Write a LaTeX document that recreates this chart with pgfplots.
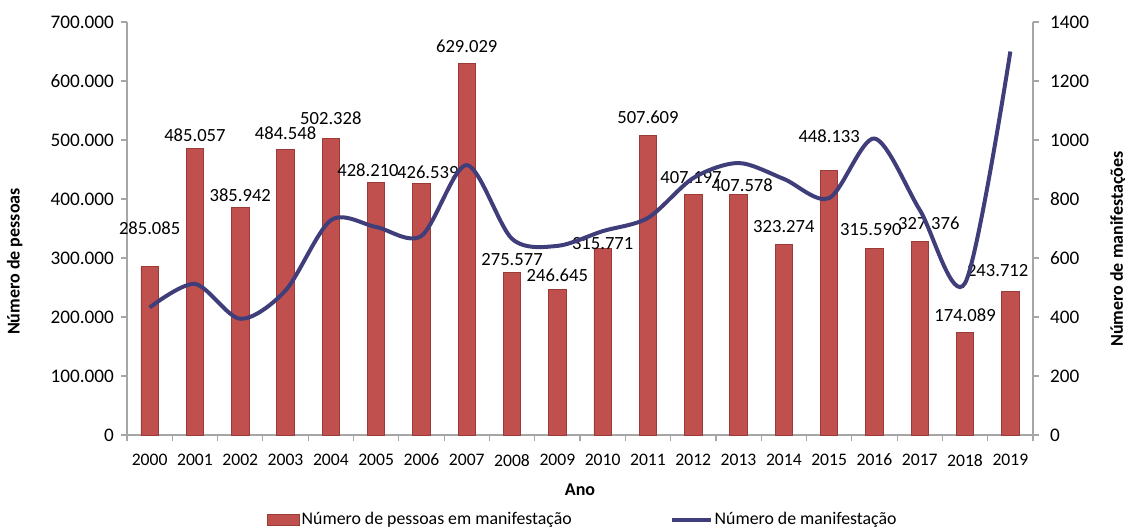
\documentclass[border=0pt]{standalone}
\usepackage{pgfplots}
\pgfplotsset{compat=1.18}
\usepackage{pgfplotstable}
\usepackage{fontspec}
\setmainfont{Carlito}
\definecolor{barred}{HTML}{C0504D}
\definecolor{baredge}{HTML}{9A3B38}
\definecolor{linecol}{RGB}{64,62,122}
\definecolor{axgray}{HTML}{A6A6A6}

\pgfplotstableread{
x pessoas labelx labely label
0 285085 0 351000 285.085
1 485057 1 508000 485.057
2 385942 2 407000 385.942
3 484548 3 512000 484.548
4 502328 4 537000 502.328
5 428210 4.82 449000 428.210
6 426539 6.14 446000 426.539
7 629029 7 659000 629.029
8 275577 8 298000 275.577
9 246645 9 271000 246.645
10 315771 10 325000 315.771
11 507609 11 539000 507.609
12 407197 11.95 437000 407.197
13 407578 13.08 424000 407.578
14 323274 14 354000 323.274
15 448133 15 507000 448.133
16 315590 15.92 349000 315.590
17 327376 17.2 359000 327.376
18 174089 18 203000 174.089
19 243712 18.72 278000 243.712
}\barsdata

\pgfplotstableread{
x manif
0 432
1 512
2 394
3 490
4 728
5 705
6 675
7 915
8 665
9 641
10 691
11 736
12 871
13 922
14 868
15 803
16 1005
17 763
18 515
19 1300
}\linedata

\begin{document}
\begin{tikzpicture}
\pgfplotsset{
  common/.style={
    width=453pt, height=206.5pt, scale only axis,
    at={(0,0)}, anchor=south west,
    xmin=-0.5, xmax=19.5,
    tick label style={font=\fontsize{8.8}{10}\selectfont, text=black},
    yticklabel style={font=\fontsize{9.6}{11}\selectfont},
    /pgf/number format/assume math mode=true,
    axis line style={axgray, line width=0.6pt},
    tick style={axgray, line width=0.6pt},
    tick align=outside,
    major tick length=3pt, minor tick length=3pt,
    label style={font=\bfseries\fontsize{9}{11}\selectfont},
  }
}
\begin{axis}[common,
  ymin=0, ymax=700000,
  ytick={0,100000,200000,300000,400000,500000,600000,700000},
  scaled y ticks=false,
  yticklabel style={/pgf/number format/.cd, fixed, 1000 sep={.}},
  axis x line*=bottom, axis y line*=left,
  xtick={0,...,19},
  xticklabels={2000,2001,2002,2003,2004,2005,2006,2007,2008,2009,2010,2011,2012,2013,2014,2015,2016,2017,2018,2019},
  major x tick style={draw=none},
  minor xtick={-0.5,0.5,1.5,2.5,3.5,4.5,5.5,6.5,7.5,8.5,9.5,10.5,11.5,12.5,13.5,14.5,15.5,16.5,17.5,18.5,19.5},
  xticklabel style={yshift=-3pt},
  xlabel={Ano},
  xlabel style={at={(axis description cs:0.5,-0.133)}, anchor=center},
  ylabel={Número de pessoas},
  ylabel style={at={(axis description cs:-0.124,0.42)}, anchor=center},
]
\addplot[ybar, bar width=8.7pt, fill=barred, draw=baredge, line width=0.4pt]
  table[x=x, y=pessoas] \barsdata;
\addplot[draw=none, mark=none, nodes near coords, point meta=explicit symbolic,
  every node near coord/.append style={anchor=center, font=\fontsize{9.3}{11}\selectfont, text=black, inner sep=0pt}]
  table[x=labelx, y=labely, meta=label] \barsdata;
\end{axis}
\begin{axis}[common,
  ymin=0, ymax=1400,
  ytick={0,200,400,600,800,1000,1200,1400},
  yticklabel style={/pgf/number format/1000 sep={}, xshift=2pt},
  axis y line*=right, axis x line=none,
  ylabel={Número de manifestações},
  ylabel style={at={(axis description cs:1.094,0.45)}, anchor=center},
  legend style={at={(axis description cs:0.503,-0.206)}, anchor=center, draw=none, fill=none,
    font=\fontsize{8.9}{11}\selectfont, legend columns=2,
    /tikz/every even column/.append style={column sep=48pt},
    nodes={inner sep=1pt}},
]
\addlegendimage{legend image code/.code={\draw[fill=barred, draw=baredge] (0pt,-2.6pt) rectangle (16pt,2.6pt);}}
\addlegendentry{Número de pessoas em manifestação}
\addplot[linecol, line width=2pt, smooth, mark=none,
  legend image code/.code={\draw[linecol, line width=2pt] (0pt,0pt) -- (19.5pt,0pt);}]
  table[x=x, y=manif] \linedata;
\addlegendentry{Número de manifestação}
\end{axis}
\pgfresetboundingbox
\path[use as bounding box] (-63.5pt,-48pt) rectangle (499pt,217.5pt);
\end{tikzpicture}
\end{document}
